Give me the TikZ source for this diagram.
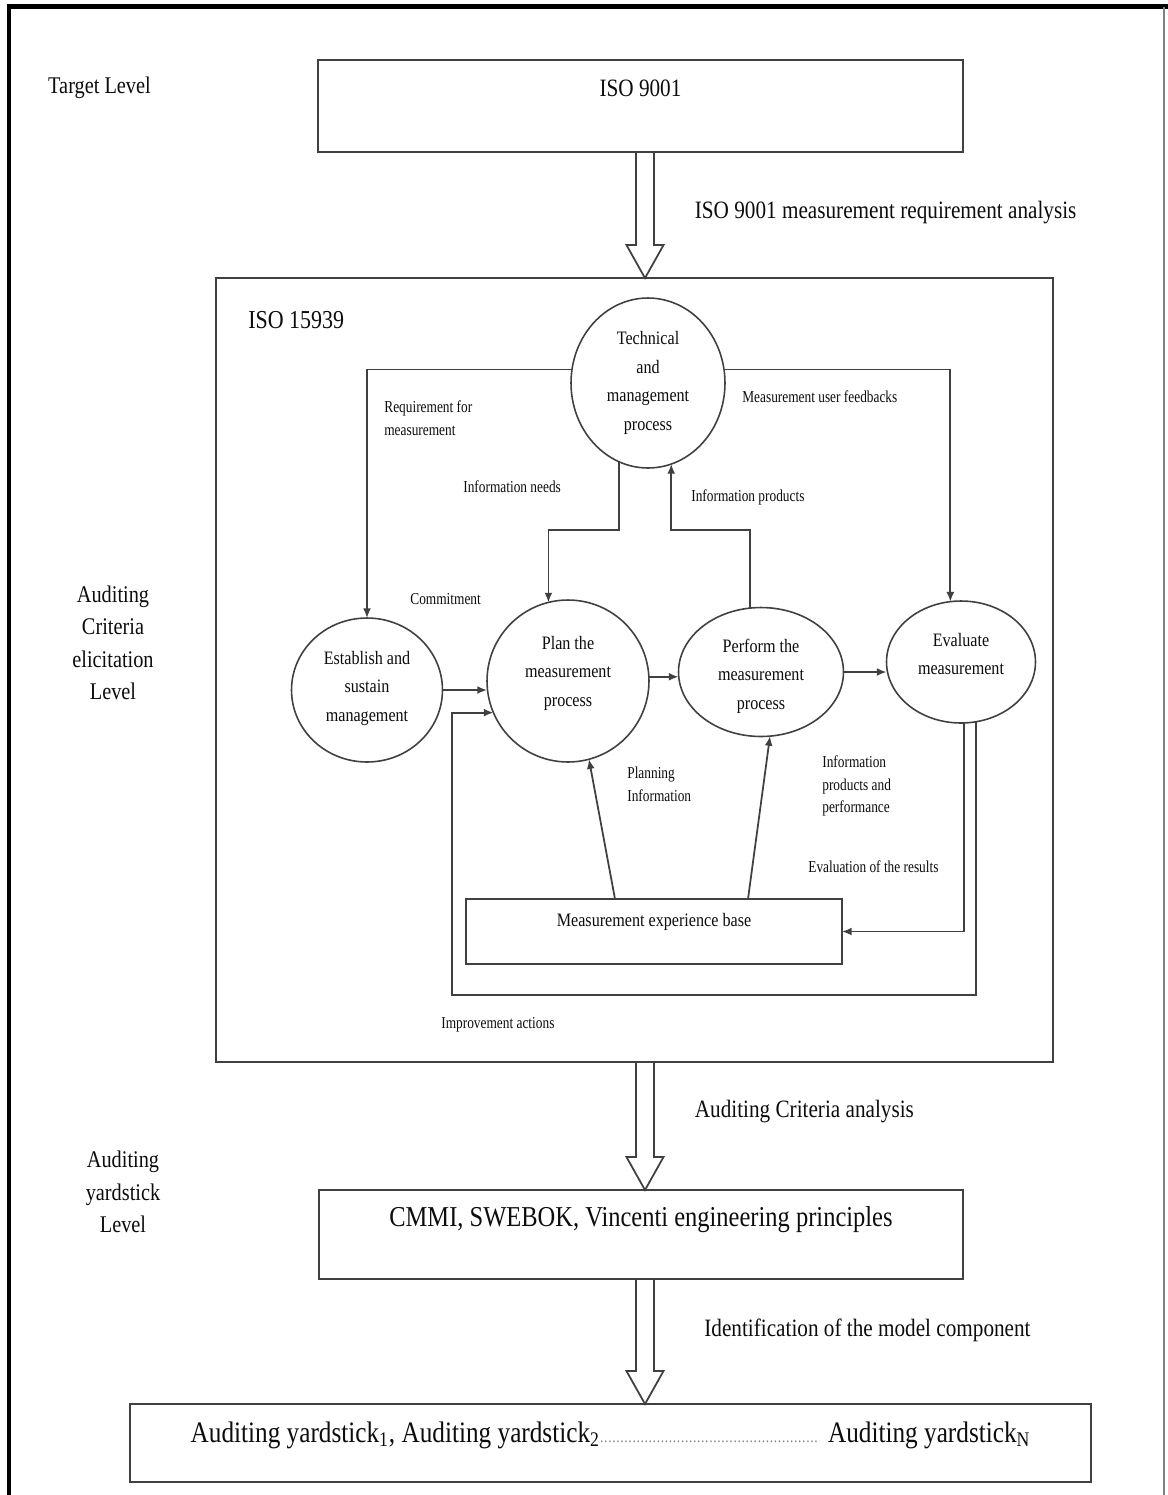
\documentclass[tikz,border=0pt]{standalone}
\usepackage{fontspec}
\setmainfont{Liberation Serif}[FakeStretch=0.85]
\newfontfamily\condfont{Liberation Serif}[FakeStretch=0.8]
\usetikzlibrary{shapes.geometric,arrows.meta,calc}
\definecolor{ln}{gray}{0.25}
\definecolor{tx}{gray}{0.05}
\newcommand\hollowarrow[2]{%
  \draw[hollow] ($(#1)+(-9,0)$) -- ($(#2)+(-9,-33)$) -- ($(#2)+(-18.5,-33)$) -- (#2)
    -- ($(#2)+(18.5,-33)$) -- ($(#2)+(9,-33)$) -- ($(#1)+(9,0)$);}
\begin{document}
\begin{tikzpicture}[x=0.02cm,y=-0.02cm,
  box/.style={draw=ln, line width=1.3pt, rectangle, inner sep=0pt, outer sep=0pt},
  ell/.style={draw=ln, line width=0.9pt, ellipse, inner sep=0pt, outer sep=0pt},
  conn/.style={draw=ln, line width=1pt, -{Latex[length=5.5pt,width=4.5pt]}},
  hollow/.style={draw=ln, line width=1pt, line join=miter},
  big/.style={text=tx, inner sep=0pt, font=\fontsize{14.2pt}{17pt}\selectfont},
  large/.style={text=tx, inner sep=0pt, font=\fontsize{16.4pt}{19pt}\selectfont},
  lvl/.style={text=tx, inner sep=0pt, align=center, font=\fontsize{13.6pt}{18.5pt}\selectfont},
  ctext/.style={text=tx, inner sep=0pt, align=center, font=\fontsize{10.8pt}{16.3pt}\selectfont},
  elab/.style={text=tx, inner sep=0pt, align=left, anchor=west, font=\condfont\fontsize{9.5pt}{13pt}\selectfont}
]
\useasboundingbox (0,0) rectangle (1168,1495);
\fill[white] (0,0) rectangle (1168,1495);
% outer frame
\draw[black, line width=2.4pt] (9,1495) -- (9,6.5) -- (1168,6.5);
\draw[gray, line width=0.8pt] (1164,6.5) -- (1164,1495);

% level labels
\node[lvl] (tl) at (99.5,88) {Target Level};
\node[lvl] (acl) at (113,643) {Auditing\\Criteria\\elicitation\\Level};
\node[lvl] (ayl) at (123,1192) {Auditing\\yardstick\\Level};

% top box
\node[box, minimum width=12.9cm, minimum height=1.84cm,
  label={[big,yshift=10.2pt]center:ISO 9001}] (iso9001) at (640.5,106) {};

% ISO 15939 frame
\node[box, minimum width=16.74cm, minimum height=15.68cm] (iso15939) at (634.5,670) {};
\node[text=tx, inner sep=0pt, anchor=west, font=\fontsize{14.7pt}{17pt}\selectfont] (isolab) at (248,320) {ISO 15939};

% processes
\node[ell, minimum width=3.08cm, minimum height=3.4cm,
  label={[ctext]center:Technical\\and\\management\\process}] (tech) at (648,383) {};
\node[ell, minimum width=3.02cm, minimum height=2.88cm,
  label={[ctext,yshift=1pt]center:Establish and\\sustain\\management}] (est) at (367,690) {};
\node[ell, minimum width=3.24cm, minimum height=3.24cm,
  label={[ctext,yshift=4.5pt]center:Plan the\\measurement\\process}] (plan) at (568,681) {};
\node[ell, minimum width=3.3cm, minimum height=2.58cm,
  label={[ctext,yshift=-2.3pt]center:Perform the\\measurement\\process}] (perf) at (761,672) {};
\node[ell, minimum width=2.98cm, minimum height=2.44cm,
  label={[ctext,yshift=4.5pt]center:Evaluate\\measurement}] (eval) at (961,662) {};
\node[box, line width=1pt, minimum width=7.52cm, minimum height=1.3cm,
  label={[ctext,yshift=5.4pt]center:Measurement experience base}] (meb) at (654,931.5) {};

% edge labels
\node[elab] (l1) at (384,418) {Requirement for\\measurement};
\node[elab] (l2) at (463,487) {Information needs};
\node[elab] (l3) at (410,599) {Commitment};
\node[elab] (l4) at (742,397) {Measurement user feedbacks};
\node[elab] (l5) at (691,497) {Information products};
\node[elab] (l6) at (627,784) {Planning\\Information};
\node[elab] (l7) at (822,786) {Information\\products and\\performance};
\node[elab] (l8) at (808,867) {Evaluation of the results};
\node[elab] (l9) at (441,1025) {Improvement actions};

% connectors
\draw[conn] (tech.170) -| (est.north);
\draw[conn] (tech.10) -| (eval.100);
\coordinate (needs) at (580,530);
\draw[conn] (tech.250) |- (needs) -| (plan.104);
\coordinate (prods) at (700,530);
\draw[conn] (perf.100) |- (prods) -| (tech.286);
\draw[conn] (est.east) -- (est.east -| plan.west);
\draw[conn] (plan.3) -- (plan.3 -| perf.west);
\draw[conn] (perf.east) -- (perf.east -| eval.west);
\coordinate (lb) at (452,995);
\draw[conn] (eval.284) |- (lb) |- (plan.203);
\draw[conn] (eval.273) |- (meb.east);
\draw[conn] ($(meb.north)+(-39,0)$) -- (plan.285);
\draw[conn] ($(meb.north)+(94,0)$) -- (perf.278);

% lower boxes
\node[box, minimum width=12.88cm, minimum height=1.78cm,
  label={[large,yshift=8.2pt]center:CMMI, SWEBOK, Vincenti engineering principles}] (cmmi) at (641,1234.5) {};
\node[box, minimum width=19.22cm, minimum height=1.56cm,
  label={[large,yshift=4.5pt,font=\fontsize{16.9pt}{19pt}\selectfont]center:Auditing yardstick\textsubscript{1}, Auditing yardstick\textsubscript{2}{\color{gray}\makebox[4.44cm]{\fontsize{9pt}{9pt}\selectfont\leaders\hbox to 2.3pt{\hss.\hss}\hfill}}\ Auditing yardstick\textsubscript{N}}] (final) at (610.5,1443) {};

% block arrows
\coordinate (a1s) at ($(iso9001.south)+(4.5,0)$);
\coordinate (a1e) at ($(iso15939.north)+(10.5,0)$);
\hollowarrow{a1s}{a1e}
\coordinate (a2s) at ($(iso15939.south)+(10.5,0)$);
\coordinate (a2e) at ($(cmmi.north)+(4,0)$);
\hollowarrow{a2s}{a2e}
\coordinate (a3s) at ($(cmmi.south)+(4,0)$);
\coordinate (a3e) at ($(final.north)+(34.5,0)$);
\hollowarrow{a3s}{a3e}

% arrow labels
\node[big, anchor=west] (al1) at (694.5,213) {ISO 9001 measurement requirement analysis};
\node[big, anchor=west] (al2) at (694.5,1112) {Auditing Criteria analysis};
\node[big, anchor=west] (al3) at (704,1330) {Identification of the model component};
\end{tikzpicture}
\end{document}
